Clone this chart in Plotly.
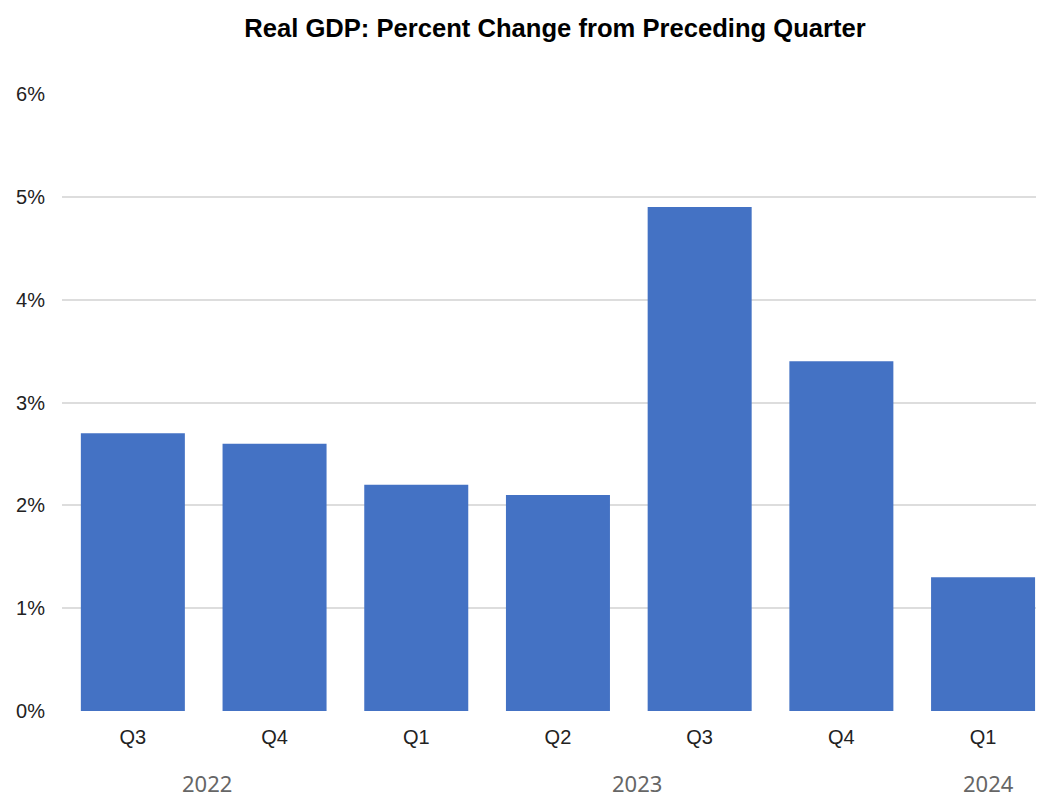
import plotly.graph_objects as go

quarters = ["Q3", "Q4", "Q1", "Q2", "Q3", "Q4", "Q1"]
values = [2.7, 2.6, 2.2, 2.1, 4.9, 3.4, 1.3]
years = ["2022", "2023", "2024"]
year_pos = [0.52, 3.56, 6.04]
yticks = [0, 1, 2, 3, 4, 5, 6]
ytick_text = [f"{v}%" for v in yticks]

xs = list(range(len(quarters)))

fig = go.Figure(go.Bar(x=xs, y=values, marker_color="#4472C4", marker_line_width=0))

for yr, p in zip(years, year_pos):
    fig.add_annotation(x=p, y=-0.117, xref="x", yref="paper", text=yr, showarrow=False,
                       yanchor="middle",
                       font=dict(family="Noto Sans", size=22, color="#666666"))

fig.update_layout(
    width=1036, height=792,
    margin=dict(l=54, r=0, t=86, b=89),
    plot_bgcolor="white", paper_bgcolor="white",
    bargap=0.266,
    showlegend=False,
    title=dict(text="<b>Real GDP: Percent Change from Preceding Quarter</b>",
               x=0.528, xanchor="center", y=0.9745, yanchor="middle",
               font=dict(family="Liberation Sans", size=25.6, color="black")),
    xaxis=dict(tickmode="array", tickvals=xs, ticktext=quarters, range=[-0.5, 6.43],
               showgrid=False, zeroline=False, showline=False, ticks="",
               tickfont=dict(family="Liberation Sans", size=20, color="#222222"),
               ticklabelstandoff=12),
    yaxis=dict(range=[0, 6], tickmode="array", tickvals=yticks, ticktext=ytick_text,
               showgrid=True, gridcolor="#dddddd", gridwidth=1.5, zeroline=False,
               showline=False, ticks="",
               tickfont=dict(family="Liberation Sans", size=20, color="#222222"),
               ticklabelstandoff=16),
)

fig.write_html("out.html")
